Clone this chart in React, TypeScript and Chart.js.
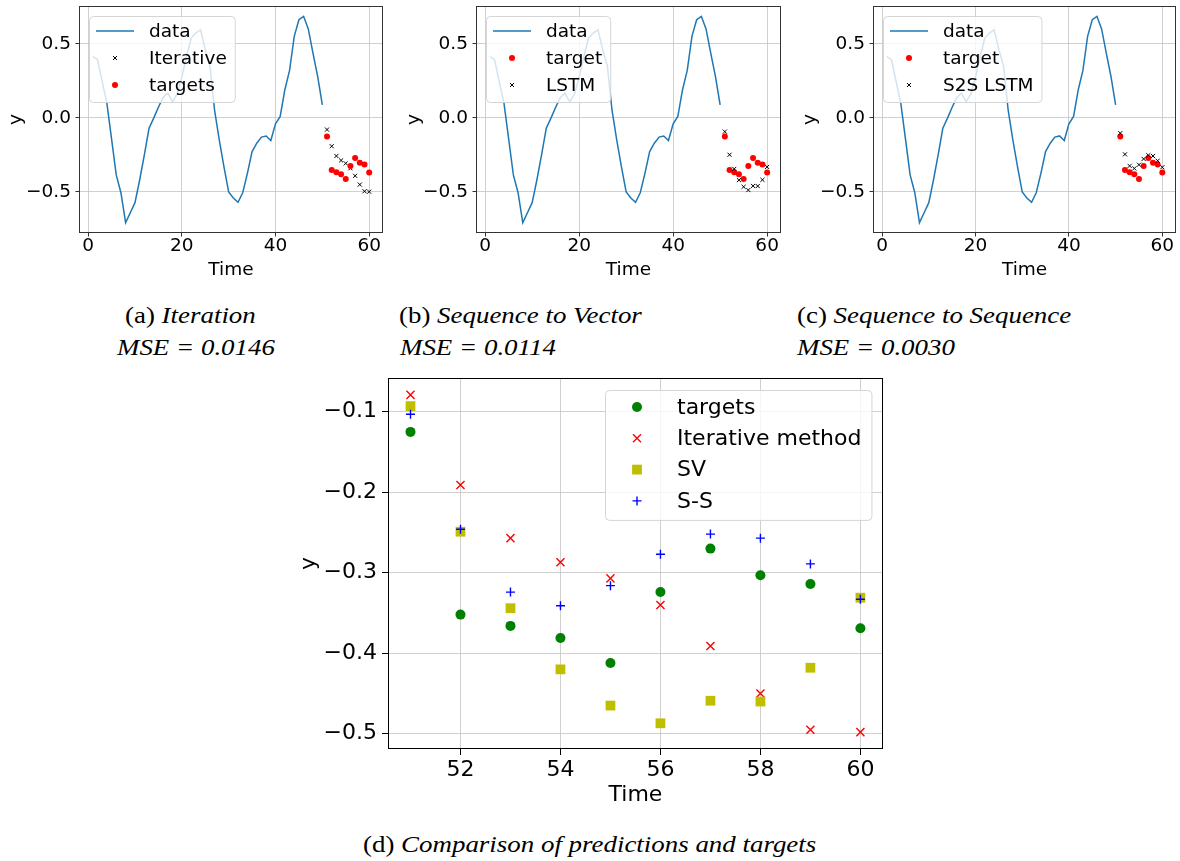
import React, { useEffect, useRef } from 'react';
import { Chart, registerables } from 'chart.js';

Chart.register(...registerables);

// ---------------- data ----------------
const dataTimes = [
  1, 2, 3, 4, 5, 6, 7, 8, 9, 10, 11, 12, 13, 14, 15, 16, 17, 18, 19, 20, 21, 22, 23, 24, 25,
  26, 27, 28, 29, 30, 31, 32, 33, 34, 35, 36, 37, 38, 39, 40, 41, 42, 43, 44, 45, 46, 47, 48, 49, 50,
];
const dataY = [
  0.414, 0.392, 0.245, 0.099, -0.142, -0.385, -0.505, -0.707, -0.64, -0.572,
  -0.419, -0.25, -0.07, -0.002, 0.072, 0.137, 0.167, 0.108, 0.16, 0.275,
  0.414, 0.538, 0.572, 0.595, 0.46, 0.35, 0.05, -0.15, -0.33, -0.5,
  -0.54, -0.57, -0.505, -0.374, -0.227, -0.171, -0.13, -0.122, -0.153, -0.04,
  0.01, 0.19, 0.32, 0.55, 0.662, 0.685, 0.6, 0.437, 0.28, 0.088,
];
const predTimes = [51, 52, 53, 54, 55, 56, 57, 58, 59, 60];
const targets = [-0.125, -0.352, -0.366, -0.381, -0.412, -0.324, -0.27, -0.303, -0.314, -0.369];
const iterativePred = [-0.079, -0.191, -0.257, -0.287, -0.307, -0.34, -0.391, -0.45, -0.495, -0.498];
const svPred = [-0.093, -0.249, -0.344, -0.42, -0.465, -0.487, -0.459, -0.46, -0.418, -0.331];
const s2sPred = [-0.103, -0.246, -0.324, -0.341, -0.316, -0.277, -0.252, -0.257, -0.289, -0.333];

const topXTicks = [0, 20, 40, 60];
const topYTicks = [-0.5, 0, 0.5];
const cmpXTicks = [52, 54, 56, 58, 60];
const cmpYTicks = [-0.5, -0.4, -0.3, -0.2, -0.1];

// ---------------- helpers ----------------
const SANS = '"DejaVu Sans", sans-serif';
const BLUE = '#1f77b4';

const pts = (xs: number[], ys: number[]) => xs.map((x, i) => ({ x, y: ys[i] }));
function padRange(vals: number[], frac = 0.05): [number, number] {
  const mn = Math.min(...vals);
  const mx = Math.max(...vals);
  const d = (mx - mn) * frac;
  return [mn - d, mx + d];
}
const fmt1 = (v: number) => (v < -1e-9 ? '\u2212' : '') + Math.abs(v).toFixed(1);
const fmt0 = (v: number) => (v < 0 ? '\u2212' : '') + Math.abs(Math.round(v)).toString();

type LegItem = { label: string; kind: 'line' | 'x' | 'dot' | 'square' | 'plus'; color: string; size: number; lw?: number };

function drawMarker(ctx: CanvasRenderingContext2D, it: LegItem, cx: number, cy: number, x0: number, len: number) {
  ctx.save();
  ctx.strokeStyle = it.color;
  ctx.fillStyle = it.color;
  ctx.lineWidth = it.lw ?? 1;
  const s = it.size;
  if (it.kind === 'line') {
    ctx.beginPath();
    ctx.moveTo(x0, cy);
    ctx.lineTo(x0 + len, cy);
    ctx.stroke();
  } else if (it.kind === 'dot') {
    ctx.beginPath();
    ctx.arc(cx, cy, s, 0, Math.PI * 2);
    ctx.fill();
  } else if (it.kind === 'square') {
    ctx.fillRect(cx - s, cy - s, 2 * s, 2 * s);
  } else if (it.kind === 'x') {
    ctx.beginPath();
    ctx.moveTo(cx - s, cy - s);
    ctx.lineTo(cx + s, cy + s);
    ctx.moveTo(cx - s, cy + s);
    ctx.lineTo(cx + s, cy - s);
    ctx.stroke();
  } else if (it.kind === 'plus') {
    ctx.beginPath();
    ctx.moveTo(cx - s, cy);
    ctx.lineTo(cx + s, cy);
    ctx.moveTo(cx, cy - s);
    ctx.lineTo(cx, cy + s);
    ctx.stroke();
  }
  ctx.restore();
}

const framePlugin = {
  id: 'frame',
  afterDatasetsDraw(chart: any, _a: any, opts: any) {
    const { ctx, chartArea } = chart;
    const l = Math.round(chartArea.left) + 0.5;
    const t = Math.round(chartArea.top) + 0.5;
    const r = Math.round(chartArea.right) - 0.5;
    const b = Math.round(chartArea.bottom) - 0.5;
    ctx.save();
    ctx.strokeStyle = opts.color || '#000';
    ctx.lineWidth = opts.width || 1;
    ctx.strokeRect(l, t, r - l, b - t);
    ctx.restore();
  },
};

const boxLegendPlugin = {
  id: 'boxLegend',
  afterDraw(chart: any, _a: any, o: any) {
    if (!o || !o.items) return;
    const { ctx, chartArea } = chart;
    ctx.save();
    ctx.font = `${o.fontSize}px ${SANS}`;
    const items: LegItem[] = o.items;
    const textW = Math.max(...items.map((it) => ctx.measureText(it.label).width));
    const w = o.padL + o.handleLen + o.gap + textW + o.padR;
    const h = o.padT + o.rowH * (items.length - 1) + o.padB;
    const x0 = Math.round(o.alignRight ? chartArea.right - o.offsetX - w : chartArea.left + o.offsetX);
    const y0 = Math.round(chartArea.top + o.offsetY);
    ctx.beginPath();
    if ((ctx as any).roundRect) (ctx as any).roundRect(x0 + 0.5, y0 + 0.5, w, h, 4);
    else ctx.rect(x0 + 0.5, y0 + 0.5, w, h);
    ctx.fillStyle = 'rgba(255,255,255,0.8)';
    ctx.fill();
    ctx.strokeStyle = '#d5d5d5';
    ctx.lineWidth = 1;
    ctx.stroke();
    items.forEach((it, i) => {
      const cy = y0 + o.padT + i * o.rowH;
      const hx = x0 + o.padL;
      drawMarker(ctx, it, hx + o.handleLen / 2, cy, hx, o.handleLen);
      ctx.fillStyle = '#000';
      ctx.textBaseline = 'middle';
      ctx.textAlign = 'left';
      ctx.font = `${o.fontSize}px ${SANS}`;
      ctx.fillText(it.label, hx + o.handleLen + o.gap, cy + 1);
    });
    ctx.restore();
  },
};

const fixX = (h: number) => (s: any) => {
  s.height = h;
  s.paddingLeft = 0;
  s.paddingRight = 0;
  s.paddingTop = 0;
  s.paddingBottom = 0;
};
const fixY = (w: number) => (s: any) => {
  s.width = w;
  s.paddingLeft = 0;
  s.paddingRight = 0;
  s.paddingTop = 0;
  s.paddingBottom = 0;
};

// ---------------- configs ----------------
type TopParams = {
  predLabel: string;
  targetLabel: string;
  pred: number[];
  targetsFirst: boolean;
  yAxisWidth: number;
  padRight: number;
  yTitlePad: number;
};

function topConfig(p: TopParams): any {
  const F = 18.5;
  const font = { family: SANS, size: F };
  const xr = padRange([...dataTimes, ...predTimes]);
  const yr = padRange([...dataY, ...targets, ...p.pred]);
  const lineDs: any = {
    label: 'data',
    data: pts(dataTimes, dataY),
    showLine: true,
    borderColor: BLUE,
    backgroundColor: BLUE,
    borderWidth: 1.5,
    pointRadius: 0,
    pointHoverRadius: 0,
    fill: false,
  };
  const predDs: any = {
    label: p.predLabel,
    data: pts(predTimes, p.pred),
    pointStyle: 'crossRot',
    pointRadius: 2.9,
    pointHoverRadius: 2.9,
    borderColor: '#000',
    backgroundColor: '#000',
    borderWidth: 1,
  };
  const tgtDs: any = {
    label: p.targetLabel,
    data: pts(predTimes, targets),
    pointStyle: 'circle',
    pointRadius: 3,
    pointHoverRadius: 3,
    backgroundColor: '#ff0000',
    borderColor: '#ff0000',
    borderWidth: 0,
  };
  const seq = p.targetsFirst ? [lineDs, tgtDs, predDs] : [lineDs, predDs, tgtDs];
  seq.forEach((d, i) => (d.order = seq.length - 1 - i));
  const legendItems: LegItem[] = seq.map((d) =>
    d === lineDs
      ? { label: d.label, kind: 'line', color: BLUE, size: 0, lw: 1.5 }
      : d === predDs
      ? { label: d.label, kind: 'x', color: '#000', size: 2, lw: 1 }
      : { label: d.label, kind: 'dot', color: '#ff0000', size: 3 }
  );
  const grid = { color: '#c4c4c4', lineWidth: 0.8, tickColor: '#333', tickLength: 3.5, tickWidth: 1 };
  return {
    type: 'scatter',
    data: { datasets: seq },
    plugins: [framePlugin, boxLegendPlugin],
    options: {
      animation: false,
      responsive: false,
      events: [],
      layout: { padding: { top: 6, right: p.padRight, left: 0, bottom: 0 } },
      plugins: {
        legend: { display: false },
        tooltip: { enabled: false },
        frame: { color: '#333', width: 1 },
        boxLegend: {
          items: legendItems,
          fontSize: F,
          offsetX: 10,
          offsetY: 10,
          padL: 7,
          handleLen: 38,
          gap: 15,
          padR: 8,
          padT: 15,
          padB: 17,
          rowH: 27,
        },
      },
      scales: {
        x: {
          type: 'linear',
          min: xr[0],
          max: xr[1],
          afterBuildTicks: (s: any) => {
            s.ticks = topXTicks.map((v) => ({ value: v }));
          },
          afterFit: fixX(57),
          ticks: { font, color: '#000', padding: -1, maxRotation: 0, autoSkip: false, callback: (v: any) => fmt0(Number(v)) },
          grid,
          border: { display: false },
          title: { display: true, text: 'Time', font, color: '#000', padding: { top: 0, bottom: 9 } },
        },
        y: {
          type: 'linear',
          min: yr[0],
          max: yr[1],
          afterBuildTicks: (s: any) => {
            s.ticks = topYTicks.map((v) => ({ value: v }));
          },
          afterFit: fixY(p.yAxisWidth),
          ticks: { font, color: '#000', padding: 4.5, autoSkip: false, callback: (v: any) => fmt1(Number(v)) },
          grid,
          border: { display: false },
          title: { display: true, text: 'y', font, color: '#000', padding: { top: p.yTitlePad, bottom: 0 } },
        },
      },
    },
  };
}

function cmpConfig(): any {
  const F = 22;
  const font = { family: SANS, size: F };
  const xr = padRange(predTimes);
  const yr = padRange([...targets, ...iterativePred, ...svPred, ...s2sPred]);
  const seq: any[] = [
    {
      label: 'targets',
      data: pts(predTimes, targets),
      pointStyle: 'circle',
      pointRadius: 5,
      backgroundColor: '#008000',
      borderColor: '#008000',
      borderWidth: 0,
    },
    {
      label: 'Iterative method',
      data: pts(predTimes, iterativePred),
      pointStyle: 'crossRot',
      pointRadius: 5.7,
      backgroundColor: '#ff0000',
      borderColor: '#ff0000',
      borderWidth: 1.4,
    },
    {
      label: 'SV',
      data: pts(predTimes, svPred),
      pointStyle: 'rect',
      pointRadius: 6.9,
      backgroundColor: '#bfbf00',
      borderColor: '#bfbf00',
      borderWidth: 0,
    },
    {
      label: 'S-S',
      data: pts(predTimes, s2sPred),
      pointStyle: 'cross',
      pointRadius: 4.5,
      backgroundColor: '#0000ff',
      borderColor: '#0000ff',
      borderWidth: 1.4,
    },
  ];
  seq.forEach((d, i) => {
    d.order = seq.length - 1 - i;
    d.pointHoverRadius = d.pointRadius;
  });
  const legendItems: LegItem[] = [
    { label: 'targets', kind: 'dot', color: '#008000', size: 5 },
    { label: 'Iterative method', kind: 'x', color: '#ff0000', size: 4, lw: 1.4 },
    { label: 'SV', kind: 'square', color: '#bfbf00', size: 4.9 },
    { label: 'S-S', kind: 'plus', color: '#0000ff', size: 4.5, lw: 1.4 },
  ];
  const grid = { color: '#c4c4c4', lineWidth: 0.8, tickColor: '#000', tickLength: 6, tickWidth: 1 };
  return {
    type: 'scatter',
    data: { datasets: seq },
    plugins: [framePlugin, boxLegendPlugin],
    options: {
      animation: false,
      responsive: false,
      events: [],
      layout: { padding: { top: 8, right: 5, left: 0, bottom: 0 } },
      plugins: {
        legend: { display: false },
        tooltip: { enabled: false },
        frame: { color: '#000', width: 1 },
        boxLegend: {
          items: legendItems,
          fontSize: F,
          alignRight: true,
          offsetX: 11,
          offsetY: 12,
          padL: 8,
          handleLen: 48,
          gap: 16,
          padR: 10,
          padT: 17,
          padB: 19,
          rowH: 31.3,
        },
      },
      scales: {
        x: {
          type: 'linear',
          min: xr[0],
          max: xr[1],
          afterBuildTicks: (s: any) => {
            s.ticks = cmpXTicks.map((v) => ({ value: v }));
          },
          afterFit: fixX(61),
          ticks: { font, color: '#000', padding: 2, maxRotation: 0, autoSkip: false, callback: (v: any) => fmt0(Number(v)) },
          grid,
          border: { display: false },
          title: { display: true, text: 'Time', font, color: '#000', padding: { top: 0, bottom: 2 } },
        },
        y: {
          type: 'linear',
          min: yr[0],
          max: yr[1],
          afterBuildTicks: (s: any) => {
            s.ticks = cmpYTicks.map((v) => ({ value: v }));
          },
          afterFit: fixY(98),
          ticks: { font, color: '#000', padding: 5, autoSkip: false, callback: (v: any) => fmt1(Number(v)) },
          grid,
          border: { display: false },
          title: { display: true, text: 'y', font, color: '#000', padding: { top: 6, bottom: 0 } },
        },
      },
    },
  };
}

// ---------------- components ----------------
function ChartBox({ left, top, width, height, makeConfig }: { left: number; top: number; width: number; height: number; makeConfig: () => any }) {
  const ref = useRef<HTMLCanvasElement>(null);
  useEffect(() => {
    const chart = new Chart(ref.current as HTMLCanvasElement, makeConfig());
    return () => chart.destroy();
  }, []);
  return (
    <div style={{ position: 'absolute', left, top, width, height }}>
      <canvas ref={ref} width={width} height={height} />
    </div>
  );
}

const capStyle: React.CSSProperties = {
  position: 'absolute',
  fontFamily: '"Liberation Serif", serif',
  fontSize: 23,
  lineHeight: '24px',
  whiteSpace: 'nowrap',
  transform: 'scaleX(1.17)',
  transformOrigin: 'left center',
  color: '#000',
};

function Caption({ left, top, label, italic }: { left: number; top: number; label: string; italic: string }) {
  return (
    <div style={{ ...capStyle, left, top }}>
      {label}
      <i>{italic}</i>
    </div>
  );
}

export default function App() {
  return (
    <div style={{ position: 'absolute', left: 0, top: 0, width: 1180, height: 861, background: '#fff', overflow: 'hidden' }}>
      <ChartBox
        left={0}
        top={0}
        width={395}
        height={290}
        makeConfig={() =>
          topConfig({ predLabel: 'Iterative', targetLabel: 'targets', pred: iterativePred, targetsFirst: false, yAxisWidth: 79, padRight: 12, yTitlePad: 5 })
        }
      />
      <ChartBox
        left={395}
        top={0}
        width={395}
        height={290}
        makeConfig={() =>
          topConfig({ predLabel: 'LSTM', targetLabel: 'target', pred: svPred, targetsFirst: true, yAxisWidth: 81, padRight: 9, yTitlePad: 8 })
        }
      />
      <ChartBox
        left={790}
        top={0}
        width={390}
        height={290}
        makeConfig={() =>
          topConfig({ predLabel: 'S2S LSTM', targetLabel: 'target', pred: s2sPred, targetsFirst: true, yAxisWidth: 83, padRight: 3, yTitlePad: 9 })
        }
      />
      <ChartBox left={290} top={370} width={600} height={440} makeConfig={cmpConfig} />

      <Caption left={125} top={304} label="(a) " italic="Iteration" />
      <Caption left={117} top={336} label="" italic="MSE = 0.0146" />
      <Caption left={399} top={304} label="(b) " italic="Sequence to Vector" />
      <Caption left={400} top={336} label="" italic="MSE = 0.0114" />
      <Caption left={797} top={304} label="(c) " italic="Sequence to Sequence" />
      <Caption left={797} top={336} label="" italic="MSE = 0.0030" />
      <Caption left={363} top={833} label="(d) " italic="Comparison of predictions and targets" />
    </div>
  );
}
